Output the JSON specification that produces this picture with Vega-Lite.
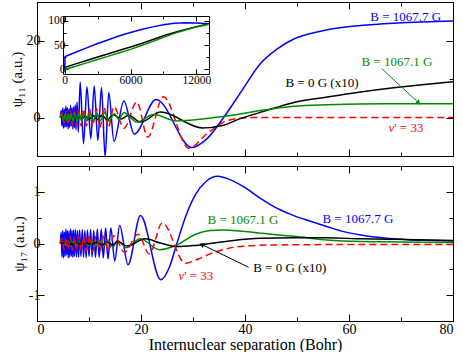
{
"$schema": "https://vega.github.io/schema/vega-lite/v6.json",
"padding": {"left": 9, "top": 1, "right": 0, "bottom": 0},
"config": {
  "view": {"stroke": null},
  "axis": {"grid": false, "domainColor": "#000", "tickColor": "#000", "labelColor": "#000", "titleColor": "#000",
    "labelFont": "Liberation Serif, Times New Roman, serif", "titleFont": "Liberation Serif, Times New Roman, serif", "labelFontSize": 14, "titleFontSize": 15,
    "titleFontWeight": "normal", "domainWidth": 1, "tickWidth": 1},
  "text": {"font": "Liberation Serif, Times New Roman, serif", "fontSize": 13}
},
"datasets": {
"top": [
{"s":"B","x":4.5,"y":0},{"s":"B","x":4.65,"y":1.8},{"s":"B","x":4.8,"y":-2.2},{"s":"B","x":4.95,"y":2.5},{"s":"B","x":5.1,"y":-2.8},{"s":"B","x":5.25,"y":2.2},{"s":"B","x":5.4,"y":-2.5},{"s":"B","x":5.55,"y":3.0},{"s":"B","x":5.7,"y":-2.4},{"s":"B","x":5.85,"y":2.6},{"s":"B","x":6.0,"y":-3.0},{"s":"B","x":6.15,"y":2.2},{"s":"B","x":6.3,"y":-2.6},{"s":"B","x":6.45,"y":3.2},{"s":"B","x":6.6,"y":-2.2},{"s":"B","x":6.75,"y":2.5},{"s":"B","x":6.9,"y":-3.0},{"s":"B","x":7.05,"y":2.8},{"s":"B","x":7.2,"y":-2.6},{"s":"B","x":7.35,"y":3.3},{"s":"B","x":7.5,"y":-3.2},{"s":"B","x":7.7,"y":4.0},{"s":"B","x":7.95,"y":-3.8},{"s":"B","x":8.3,"y":9.2},{"s":"B","x":8.95,"y":-6.8},{"s":"B","x":9.6,"y":8.0},{"s":"B","x":10.35,"y":-5.5},{"s":"B","x":11.0,"y":8.2},{"s":"B","x":11.7,"y":-6.0},{"s":"B","x":12.4,"y":7.8},{"s":"B","x":13.1,"y":-10.2},{"s":"B","x":13.8,"y":6.5},{"s":"B","x":14.8,"y":-6.2},{"s":"B","x":16.7,"y":4.3},{"s":"B","x":18.7,"y":-4.3},{"s":"B","x":22.9,"y":4.7},{"s":"B","x":29.8,"y":-7.8},{"s":"B","x":32.7,"y":-5.5},{"s":"B","x":35.9,"y":0},{"s":"B","x":39.4,"y":7.0},{"s":"B","x":42.9,"y":13.9},{"s":"B","x":46.2,"y":17.8},{"s":"B","x":49.4,"y":20.4},{"s":"B","x":52.6,"y":21.8},{"s":"B","x":55.8,"y":22.8},{"s":"B","x":62.2,"y":23.9},{"s":"B","x":68.6,"y":24.5},{"s":"B","x":74,"y":24.8},{"s":"B","x":80,"y":25.1},
{"s":"K","x":4.5,"y":0},{"s":"K","x":5,"y":0.3},{"s":"K","x":5.5,"y":-0.3},{"s":"K","x":6,"y":0.4},{"s":"K","x":6.5,"y":-0.3},{"s":"K","x":7,"y":0.4},{"s":"K","x":7.5,"y":-0.4},{"s":"K","x":8,"y":0.4},{"s":"K","x":8.6,"y":-0.4},{"s":"K","x":9.3,"y":0.4},{"s":"K","x":10,"y":-0.5},{"s":"K","x":10.8,"y":0.5},{"s":"K","x":11.6,"y":-0.5},{"s":"K","x":12.5,"y":0.6},{"s":"K","x":13.5,"y":-0.6},{"s":"K","x":14.7,"y":0.7},{"s":"K","x":16.2,"y":-0.4},{"s":"K","x":17.6,"y":0.6},{"s":"K","x":19.9,"y":-1.2},{"s":"K","x":23.8,"y":1.4},{"s":"K","x":31.8,"y":-2.7},{"s":"K","x":35.9,"y":-2.0},{"s":"K","x":39.1,"y":-0.3},{"s":"K","x":42.6,"y":1.2},{"s":"K","x":46,"y":2.6},{"s":"K","x":49.4,"y":3.9},{"s":"K","x":55.8,"y":5.3},{"s":"K","x":62.2,"y":6.6},{"s":"K","x":68.6,"y":7.7},{"s":"K","x":74,"y":8.5},{"s":"K","x":80,"y":9.3},
{"s":"G","x":4.5,"y":0},{"s":"G","x":4.8,"y":0.8},{"s":"G","x":5.1,"y":-0.8},{"s":"G","x":5.4,"y":0.9},{"s":"G","x":5.7,"y":-0.9},{"s":"G","x":6.0,"y":1.0},{"s":"G","x":6.3,"y":-0.8},{"s":"G","x":6.6,"y":1.0},{"s":"G","x":6.9,"y":-1.0},{"s":"G","x":7.3,"y":1.0},{"s":"G","x":7.7,"y":-1.1},{"s":"G","x":8.1,"y":1.0},{"s":"G","x":8.6,"y":-1.0},{"s":"G","x":9.1,"y":1.1},{"s":"G","x":9.6,"y":-0.9},{"s":"G","x":10.2,"y":1.1},{"s":"G","x":10.8,"y":-0.9},{"s":"G","x":11.5,"y":1.2},{"s":"G","x":12.2,"y":-0.8},{"s":"G","x":13.0,"y":1.3},{"s":"G","x":13.8,"y":-0.9},{"s":"G","x":14.9,"y":1.0},{"s":"G","x":15.7,"y":-0.5},{"s":"G","x":16.7,"y":1.3},{"s":"G","x":19.2,"y":-1.2},{"s":"G","x":22.4,"y":0.8},{"s":"G","x":26.9,"y":-0.9},{"s":"G","x":30.5,"y":-0.6},{"s":"G","x":33.5,"y":-0.1},{"s":"G","x":36.5,"y":0.4},{"s":"G","x":39.1,"y":0.9},{"s":"G","x":42.9,"y":1.8},{"s":"G","x":45.5,"y":2.3},{"s":"G","x":49.4,"y":2.9},{"s":"G","x":55.8,"y":3.3},{"s":"G","x":62,"y":3.5},{"s":"G","x":70,"y":3.55},{"s":"G","x":80,"y":3.55},
{"s":"R","x":4.4,"y":0},{"s":"R","x":4.8,"y":1.2},{"s":"R","x":5.2,"y":-1.5},{"s":"R","x":5.6,"y":1.6},{"s":"R","x":6.0,"y":-1.8},{"s":"R","x":6.4,"y":1.8},{"s":"R","x":6.8,"y":-2.0},{"s":"R","x":7.2,"y":2.0},{"s":"R","x":7.6,"y":-2.0},{"s":"R","x":8.0,"y":2.2},{"s":"R","x":8.5,"y":-2.2},{"s":"R","x":9.0,"y":2.2},{"s":"R","x":9.5,"y":-2.2},{"s":"R","x":10.1,"y":2.3},{"s":"R","x":10.7,"y":-2.3},{"s":"R","x":11.4,"y":2.4},{"s":"R","x":12.1,"y":-2.5},{"s":"R","x":12.9,"y":2.6},{"s":"R","x":13.7,"y":-2.7},{"s":"R","x":14.8,"y":2.8},{"s":"R","x":16.7,"y":-2.8},{"s":"R","x":19.2,"y":4.0},{"s":"R","x":21.3,"y":-5.1},{"s":"R","x":24.3,"y":5.4},{"s":"R","x":29.2,"y":-8.0},{"s":"R","x":32.7,"y":-4.2},{"s":"R","x":35.9,"y":-1.2},{"s":"R","x":39,"y":-0.2},{"s":"R","x":42,"y":0},{"s":"R","x":80,"y":0}
],
"bot": [
{"s":"B","x":4.5,"y":0},{"s":"B","x":4.65,"y":0.22},{"s":"B","x":4.8,"y":-0.26},{"s":"B","x":4.95,"y":0.25},{"s":"B","x":5.1,"y":-0.28},{"s":"B","x":5.25,"y":0.22},{"s":"B","x":5.4,"y":-0.25},{"s":"B","x":5.55,"y":0.28},{"s":"B","x":5.7,"y":-0.22},{"s":"B","x":5.85,"y":0.25},{"s":"B","x":6.0,"y":-0.28},{"s":"B","x":6.15,"y":0.24},{"s":"B","x":6.3,"y":-0.26},{"s":"B","x":6.45,"y":0.28},{"s":"B","x":6.6,"y":-0.24},{"s":"B","x":6.75,"y":0.25},{"s":"B","x":6.9,"y":-0.27},{"s":"B","x":7.05,"y":0.26},{"s":"B","x":7.2,"y":-0.25},{"s":"B","x":7.4,"y":0.27},{"s":"B","x":7.6,"y":-0.26},{"s":"B","x":7.8,"y":0.25},{"s":"B","x":8.0,"y":-0.27},{"s":"B","x":8.2,"y":0.26},{"s":"B","x":8.45,"y":-0.25},{"s":"B","x":8.7,"y":0.27},{"s":"B","x":8.95,"y":-0.26},{"s":"B","x":9.2,"y":0.25},{"s":"B","x":9.45,"y":-0.28},{"s":"B","x":9.7,"y":0.26},{"s":"B","x":10.0,"y":-0.25},{"s":"B","x":10.3,"y":0.27},{"s":"B","x":10.6,"y":-0.26},{"s":"B","x":10.9,"y":0.25},{"s":"B","x":11.25,"y":-0.27},{"s":"B","x":11.6,"y":0.28},{"s":"B","x":11.95,"y":-0.27},{"s":"B","x":12.35,"y":0.28},{"s":"B","x":12.75,"y":-0.28},{"s":"B","x":13.2,"y":0.3},{"s":"B","x":13.65,"y":-0.3},{"s":"B","x":14.2,"y":0.3},{"s":"B","x":14.95,"y":-0.34},{"s":"B","x":15.9,"y":0.35},{"s":"B","x":17.5,"y":-0.41},{"s":"B","x":19.9,"y":0.54},{"s":"B","x":23.8,"y":-0.7},{"s":"B","x":25.5,"y":-0.45},{"s":"B","x":26.9,"y":0},{"s":"B","x":28.5,"y":0.5},{"s":"B","x":30.5,"y":0.95},{"s":"B","x":32.5,"y":1.2},{"s":"B","x":34.8,"y":1.3},{"s":"B","x":36.5,"y":1.26},{"s":"B","x":39.7,"y":1.1},{"s":"B","x":42.9,"y":0.88},{"s":"B","x":46.2,"y":0.68},{"s":"B","x":49.4,"y":0.54},{"s":"B","x":52.6,"y":0.43},{"s":"B","x":56,"y":0.32},{"s":"B","x":59,"y":0.23},{"s":"B","x":62,"y":0.17},{"s":"B","x":65.4,"y":0.12},{"s":"B","x":68.6,"y":0.09},{"s":"B","x":71.8,"y":0.07},{"s":"B","x":76,"y":0.06},{"s":"B","x":80,"y":0.05},
{"s":"G","x":4.5,"y":0},{"s":"G","x":5,"y":0.04},{"s":"G","x":5.5,"y":-0.04},{"s":"G","x":6,"y":0.05},{"s":"G","x":6.5,"y":-0.05},{"s":"G","x":7,"y":0.05},{"s":"G","x":7.5,"y":-0.05},{"s":"G","x":8,"y":0.05},{"s":"G","x":8.6,"y":-0.05},{"s":"G","x":9.2,"y":0.05},{"s":"G","x":9.8,"y":-0.05},{"s":"G","x":10.5,"y":0.06},{"s":"G","x":11.2,"y":-0.06},{"s":"G","x":12,"y":0.06},{"s":"G","x":12.8,"y":-0.06},{"s":"G","x":13.7,"y":0.07},{"s":"G","x":14.6,"y":-0.07},{"s":"G","x":15.5,"y":0.06},{"s":"G","x":17.2,"y":-0.08},{"s":"G","x":19.8,"y":0.09},{"s":"G","x":23.6,"y":-0.12},{"s":"G","x":26.9,"y":-0.03},{"s":"G","x":30.5,"y":0.18},{"s":"G","x":33.3,"y":0.25},{"s":"G","x":36,"y":0.26},{"s":"G","x":39,"y":0.24},{"s":"G","x":42.9,"y":0.2},{"s":"G","x":46,"y":0.17},{"s":"G","x":49.4,"y":0.14},{"s":"G","x":55.8,"y":0.07},{"s":"G","x":62.2,"y":0.04},{"s":"G","x":70,"y":0.03},{"s":"G","x":80,"y":0.02},
{"s":"K","x":4.5,"y":0},{"s":"K","x":5.5,"y":0.02},{"s":"K","x":6.5,"y":-0.02},{"s":"K","x":7.5,"y":0.02},{"s":"K","x":8.5,"y":-0.02},{"s":"K","x":9.5,"y":0.02},{"s":"K","x":10.5,"y":-0.02},{"s":"K","x":11.5,"y":0.03},{"s":"K","x":12.5,"y":-0.03},{"s":"K","x":13.5,"y":0.03},{"s":"K","x":14.5,"y":-0.03},{"s":"K","x":15.5,"y":0.04},{"s":"K","x":17.3,"y":-0.05},{"s":"K","x":20.8,"y":0.09},{"s":"K","x":23.7,"y":0.01},{"s":"K","x":26.9,"y":-0.06},{"s":"K","x":30.1,"y":-0.04},{"s":"K","x":33.3,"y":0.0},{"s":"K","x":37.8,"y":0.06},{"s":"K","x":42.9,"y":0.1},{"s":"K","x":49.4,"y":0.11},{"s":"K","x":55.8,"y":0.11},{"s":"K","x":62.2,"y":0.09},{"s":"K","x":68.6,"y":0.08},{"s":"K","x":80,"y":0.06},
{"s":"R","x":4.4,"y":0},{"s":"R","x":4.8,"y":0.1},{"s":"R","x":5.2,"y":-0.12},{"s":"R","x":5.6,"y":0.12},{"s":"R","x":6.0,"y":-0.13},{"s":"R","x":6.4,"y":0.13},{"s":"R","x":6.8,"y":-0.13},{"s":"R","x":7.2,"y":0.13},{"s":"R","x":7.6,"y":-0.14},{"s":"R","x":8.0,"y":0.14},{"s":"R","x":8.5,"y":-0.14},{"s":"R","x":9.0,"y":0.14},{"s":"R","x":9.5,"y":-0.14},{"s":"R","x":10.1,"y":0.15},{"s":"R","x":10.7,"y":-0.15},{"s":"R","x":11.4,"y":0.15},{"s":"R","x":12.1,"y":-0.15},{"s":"R","x":12.9,"y":0.15},{"s":"R","x":13.7,"y":-0.15},{"s":"R","x":14.8,"y":0.15},{"s":"R","x":16.8,"y":-0.17},{"s":"R","x":19.4,"y":0.18},{"s":"R","x":21.6,"y":-0.2},{"s":"R","x":24.1,"y":0.4},{"s":"R","x":28.5,"y":-0.38},{"s":"R","x":31,"y":-0.3},{"s":"R","x":33.3,"y":-0.2},{"s":"R","x":36.5,"y":-0.1},{"s":"R","x":40,"y":-0.05},{"s":"R","x":45,"y":-0.03},{"s":"R","x":60,"y":-0.02},{"s":"R","x":80,"y":-0.02}
],
"inset": [
{"s":"B","x":0,"y":0},{"s":"B","x":40,"y":26},{"s":"B","x":1000,"y":35},{"s":"B","x":2000,"y":44},{"s":"B","x":3000,"y":53},{"s":"B","x":4000,"y":61},{"s":"B","x":5000,"y":69},{"s":"B","x":6000,"y":76},{"s":"B","x":7000,"y":82},{"s":"B","x":8000,"y":87.5},{"s":"B","x":9000,"y":92},{"s":"B","x":10000,"y":95},{"s":"B","x":11000,"y":96},{"s":"B","x":12000,"y":95.5},{"s":"B","x":13150,"y":94},
{"s":"K","x":0,"y":0},{"s":"K","x":40,"y":4},{"s":"K","x":1000,"y":11},{"s":"K","x":2000,"y":18},{"s":"K","x":3000,"y":25},{"s":"K","x":4000,"y":32},{"s":"K","x":5000,"y":39},{"s":"K","x":6000,"y":46},{"s":"K","x":7000,"y":53},{"s":"K","x":8000,"y":61},{"s":"K","x":9000,"y":69},{"s":"K","x":10000,"y":76},{"s":"K","x":11000,"y":82},{"s":"K","x":12000,"y":88},{"s":"K","x":13150,"y":94},
{"s":"G","x":0,"y":0},{"s":"G","x":40,"y":0},{"s":"G","x":1000,"y":6},{"s":"G","x":2000,"y":13},{"s":"G","x":3000,"y":20},{"s":"G","x":4000,"y":27},{"s":"G","x":5000,"y":34},{"s":"G","x":6000,"y":41},{"s":"G","x":7000,"y":49},{"s":"G","x":8000,"y":57},{"s":"G","x":9000,"y":66},{"s":"G","x":10000,"y":74},{"s":"G","x":11000,"y":81},{"s":"G","x":12000,"y":87},{"s":"G","x":13150,"y":93}
],
"topText": [
{"s":"B","x":70.9,"y":26.0,"t":"B = 1067.7 G","k":"c"},
{"s":"G","x":69.2,"y":14.3,"t":"B = 1067.1 G","k":"c"},
{"s":"K","x":54.8,"y":9.0,"t":"B = 0 G (x10)","k":"c"},
{"s":"R","x":68.7,"y":-2.6,"t":"ν","k":"nu"},
{"s":"R","x":68.7,"y":-2.6,"t":"' = 33","k":"r"}
],
"botText": [
{"s":"G","x":39.6,"y":0.46,"t":"B = 1067.1 G","k":"c"},
{"s":"B","x":61.7,"y":0.47,"t":"B = 1067.7 G","k":"c"},
{"s":"K","x":48.6,"y":-0.48,"t":"B = 0 G (x10)","k":"c"},
{"s":"R","x":28.3,"y":-0.62,"t":"ν","k":"nu"},
{"s":"R","x":28.3,"y":-0.62,"t":"' = 33","k":"r"}
],
"topArrow": [{"x":66.3,"y":12.7,"x2":73.4,"y2":3.8}],
"botArrow": [{"x":40.7,"y":-0.46,"x2":31.7,"y2":-0.02}]
},
"spacing": 8,
"vconcat": [
{
 "width": 416, "height": 154,
 "resolve": {"scale": {"x": "independent", "y": "independent", "color": "independent"}, "axis": {"x": "independent", "y": "independent"}},
 "layer": [
  {"data": {"name": "top"}, "transform": [{"filter": "datum.s === 'B'"}],
   "mark": {"type": "line", "color": "#0000ff", "strokeWidth": 1.5, "interpolate": "monotone", "clip": true},
   "encoding": {
    "x": {"field": "x", "type": "quantitative", "scale": {"domain": [0, 80], "nice": false, "zero": false},
      "axis": {"orient": "bottom", "values": [0,10,20,30,40,50,60,70,80], "labels": false, "title": null,
        "tickSize": {"condition": {"test": "datum.value % 20 !== 0", "value": -4}, "value": -7}}},
    "y": {"field": "y", "type": "quantitative", "scale": {"domain": [-10, 30], "nice": false, "zero": false},
      "axis": {"orient": "left", "values": [-10,0,10,20,30], "labelExpr": "datum.value % 20 === 0 ? datum.label : ''",
        "title": "ψ₁₁ (a.u.)", "titlePadding": 2, "labelPadding": 4,
        "tickSize": {"condition": {"test": "datum.value % 20 !== 0", "value": -4}, "value": -7}}}
   }},
  {"data": {"name": "top"}, "transform": [{"filter": "datum.s === 'R'"}],
   "mark": {"type": "line", "color": "#ff0000", "strokeWidth": 1.5, "strokeDash": [7, 4], "interpolate": "monotone", "clip": true},
   "encoding": {
    "x": {"field": "x", "type": "quantitative", "scale": {"domain": [0, 80], "nice": false, "zero": false},
      "axis": {"orient": "top", "values": [0,10,20,30,40,50,60,70,80], "labels": false, "title": null,
        "tickSize": {"condition": {"test": "datum.value % 20 !== 0", "value": -4}, "value": -7}}},
    "y": {"field": "y", "type": "quantitative", "scale": {"domain": [-10, 30], "nice": false, "zero": false},
      "axis": {"orient": "right", "values": [-10,0,10,20,30], "labels": false, "title": null,
        "tickSize": {"condition": {"test": "datum.value % 20 !== 0", "value": -4}, "value": -7}}}
   }},
  {"data": {"name": "top"}, "transform": [{"filter": "datum.s === 'K'"}],
   "mark": {"type": "line", "color": "#000000", "strokeWidth": 1.5, "interpolate": "monotone", "clip": true},
   "encoding": {
    "x": {"field": "x", "type": "quantitative", "scale": {"domain": [0, 80], "nice": false, "zero": false}, "axis": null},
    "y": {"field": "y", "type": "quantitative", "scale": {"domain": [-10, 30], "nice": false, "zero": false}, "axis": null}
   }},
  {"data": {"name": "top"}, "transform": [{"filter": "datum.s === 'G'"}],
   "mark": {"type": "line", "color": "#008b00", "strokeWidth": 1.5, "interpolate": "monotone", "clip": true},
   "encoding": {
    "x": {"field": "x", "type": "quantitative", "scale": {"domain": [0, 80], "nice": false, "zero": false}, "axis": null},
    "y": {"field": "y", "type": "quantitative", "scale": {"domain": [-10, 30], "nice": false, "zero": false}, "axis": null}
   }},
  {"data": {"name": "topText"}, "transform": [{"filter": "datum.k === 'c'"}],
   "mark": {"type": "text", "align": "center", "baseline": "middle"},
   "encoding": {
    "x": {"field": "x", "type": "quantitative", "scale": {"domain": [0, 80], "nice": false, "zero": false}, "axis": null},
    "y": {"field": "y", "type": "quantitative", "scale": {"domain": [-10, 30], "nice": false, "zero": false}, "axis": null},
    "text": {"field": "t"},
    "color": {"field": "s", "type": "nominal", "scale": {"domain": ["B","K","G","R"], "range": ["#0000ff","#000000","#008b00","#ff0000"]}, "legend": null}
   }},
  {"data": {"name": "topText"}, "transform": [{"filter": "datum.k === 'nu'"}],
   "mark": {"type": "text", "align": "right", "baseline": "middle", "fontStyle": "italic", "color": "#ff0000"},
   "encoding": {
    "x": {"field": "x", "type": "quantitative", "scale": {"domain": [0, 80], "nice": false, "zero": false}, "axis": null},
    "y": {"field": "y", "type": "quantitative", "scale": {"domain": [-10, 30], "nice": false, "zero": false}, "axis": null},
    "text": {"field": "t"}
   }},
  {"data": {"name": "topText"}, "transform": [{"filter": "datum.k === 'r'"}],
   "mark": {"type": "text", "align": "left", "baseline": "middle", "color": "#ff0000"},
   "encoding": {
    "x": {"field": "x", "type": "quantitative", "scale": {"domain": [0, 80], "nice": false, "zero": false}, "axis": null},
    "y": {"field": "y", "type": "quantitative", "scale": {"domain": [-10, 30], "nice": false, "zero": false}, "axis": null},
    "text": {"field": "t"}
   }},
  {"data": {"name": "topArrow"},
   "mark": {"type": "rule", "color": "#008b00", "strokeWidth": 1},
   "encoding": {
    "x": {"field": "x", "type": "quantitative", "scale": {"domain": [0, 80], "nice": false, "zero": false}, "axis": null},
    "y": {"field": "y", "type": "quantitative", "scale": {"domain": [-10, 30], "nice": false, "zero": false}, "axis": null},
    "x2": {"field": "x2"}, "y2": {"field": "y2"}
   }},
  {"data": {"name": "topArrow"},
   "mark": {"type": "point", "shape": "triangle-right", "angle": 43, "size": 30, "filled": true, "opacity": 1, "color": "#008b00"},
   "encoding": {
    "x": {"field": "x2", "type": "quantitative", "scale": {"domain": [0, 80], "nice": false, "zero": false}, "axis": null},
    "y": {"field": "y2", "type": "quantitative", "scale": {"domain": [-10, 30], "nice": false, "zero": false}, "axis": null}
   }},
  {"data": {"name": "inset"}, "transform": [{"filter": "datum.s === 'B'"}],
   "mark": {"type": "line", "color": "#0000ff", "strokeWidth": 1.5},
   "encoding": {
    "x": {"field": "x", "type": "quantitative", "scale": {"domain": [-150, 13150], "range": [26, 172], "nice": false, "zero": false},
      "axis": {"orient": "bottom", "offset": -82, "values": [0,3000,6000,9000,12000], "format": "d",
        "labelExpr": "datum.value % 6000 === 0 ? datum.label : ''", "labelFontSize": 11.5, "labelPadding": 5, "title": null,
        "tickSize": {"condition": {"test": "datum.value % 6000 !== 0", "value": -3}, "value": -5}}},
    "y": {"field": "y", "type": "quantitative", "scale": {"domain": [-10, 110], "range": [72, 14], "nice": false, "zero": false},
      "axis": {"orient": "left", "offset": -26, "values": [0,25,50,75,100],
        "labelExpr": "datum.value % 50 === 0 ? datum.label : ''", "labelFontSize": 11.5, "labelPadding": 3, "title": null,
        "tickSize": {"condition": {"test": "datum.value % 50 !== 0", "value": -3}, "value": -5}}}
   }},
  {"data": {"name": "inset"}, "transform": [{"filter": "datum.s === 'K'"}],
   "mark": {"type": "line", "color": "#000000", "strokeWidth": 1.5},
   "encoding": {
    "x": {"field": "x", "type": "quantitative", "scale": {"domain": [-150, 13150], "range": [26, 172], "nice": false, "zero": false},
      "axis": {"orient": "top", "offset": -14, "values": [0,3000,6000,9000,12000], "labels": false, "title": null,
        "tickSize": {"condition": {"test": "datum.value % 6000 !== 0", "value": -3}, "value": -5}}},
    "y": {"field": "y", "type": "quantitative", "scale": {"domain": [-10, 110], "range": [72, 14], "nice": false, "zero": false},
      "axis": {"orient": "right", "offset": -244, "values": [0,25,50,75,100], "labels": false, "title": null,
        "tickSize": {"condition": {"test": "datum.value % 50 !== 0", "value": -3}, "value": -5}}}
   }},
  {"data": {"name": "inset"}, "transform": [{"filter": "datum.s === 'G'"}],
   "mark": {"type": "line", "color": "#008b00", "strokeWidth": 1.5},
   "encoding": {
    "x": {"field": "x", "type": "quantitative", "scale": {"domain": [-150, 13150], "range": [26, 172], "nice": false, "zero": false}, "axis": null},
    "y": {"field": "y", "type": "quantitative", "scale": {"domain": [-10, 110], "range": [72, 14], "nice": false, "zero": false}, "axis": null}
   }}
 ]
},
{
 "width": 416, "height": 155,
 "resolve": {"scale": {"x": "independent", "y": "independent", "color": "independent"}, "axis": {"x": "independent", "y": "independent"}},
 "layer": [
  {"data": {"name": "bot"}, "transform": [{"filter": "datum.s === 'B'"}],
   "mark": {"type": "line", "color": "#0000ff", "strokeWidth": 1.5, "interpolate": "monotone", "clip": true},
   "encoding": {
    "x": {"field": "x", "type": "quantitative", "scale": {"domain": [0, 80], "nice": false, "zero": false},
      "axis": {"orient": "bottom", "values": [0,10,20,30,40,50,60,70,80], "labelExpr": "datum.value % 20 === 0 ? datum.label : ''",
        "title": "Internuclear separation (Bohr)", "titleFontSize": 16, "titlePadding": 0, "labelPadding": 8,
        "tickSize": {"condition": {"test": "datum.value % 20 !== 0", "value": -4}, "value": -7}}},
    "y": {"field": "y", "type": "quantitative", "scale": {"domain": [-1.5, 1.5], "nice": false, "zero": false},
      "axis": {"orient": "left", "values": [-1.5,-1,-0.5,0,0.5,1,1.5],
        "labelExpr": "datum.value % 1 === 0 ? (datum.value < 0 ? '-' + abs(datum.value) : '' + datum.value) : ''",
        "title": "ψ₁₇ (a.u.)", "titlePadding": 2, "labelPadding": 4,
        "tickSize": {"condition": {"test": "datum.value % 1 !== 0", "value": -4}, "value": -7}}}
   }},
  {"data": {"name": "bot"}, "transform": [{"filter": "datum.s === 'G'"}],
   "mark": {"type": "line", "color": "#008b00", "strokeWidth": 1.5, "interpolate": "monotone", "clip": true},
   "encoding": {
    "x": {"field": "x", "type": "quantitative", "scale": {"domain": [0, 80], "nice": false, "zero": false},
      "axis": {"orient": "top", "values": [0,10,20,30,40,50,60,70,80], "labels": false, "title": null,
        "tickSize": {"condition": {"test": "datum.value % 20 !== 0", "value": -4}, "value": -7}}},
    "y": {"field": "y", "type": "quantitative", "scale": {"domain": [-1.5, 1.5], "nice": false, "zero": false},
      "axis": {"orient": "right", "values": [-1.5,-1,-0.5,0,0.5,1,1.5], "labels": false, "title": null,
        "tickSize": {"condition": {"test": "datum.value % 1 !== 0", "value": -4}, "value": -7}}}
   }},
  {"data": {"name": "bot"}, "transform": [{"filter": "datum.s === 'K'"}],
   "mark": {"type": "line", "color": "#000000", "strokeWidth": 1.5, "interpolate": "monotone", "clip": true},
   "encoding": {
    "x": {"field": "x", "type": "quantitative", "scale": {"domain": [0, 80], "nice": false, "zero": false}, "axis": null},
    "y": {"field": "y", "type": "quantitative", "scale": {"domain": [-1.5, 1.5], "nice": false, "zero": false}, "axis": null}
   }},
  {"data": {"name": "bot"}, "transform": [{"filter": "datum.s === 'R'"}],
   "mark": {"type": "line", "color": "#ff0000", "strokeWidth": 1.5, "strokeDash": [7, 4], "interpolate": "monotone", "clip": true},
   "encoding": {
    "x": {"field": "x", "type": "quantitative", "scale": {"domain": [0, 80], "nice": false, "zero": false}, "axis": null},
    "y": {"field": "y", "type": "quantitative", "scale": {"domain": [-1.5, 1.5], "nice": false, "zero": false}, "axis": null}
   }},
  {"data": {"name": "botText"}, "transform": [{"filter": "datum.k === 'c'"}],
   "mark": {"type": "text", "align": "center", "baseline": "middle"},
   "encoding": {
    "x": {"field": "x", "type": "quantitative", "scale": {"domain": [0, 80], "nice": false, "zero": false}, "axis": null},
    "y": {"field": "y", "type": "quantitative", "scale": {"domain": [-1.5, 1.5], "nice": false, "zero": false}, "axis": null},
    "text": {"field": "t"},
    "color": {"field": "s", "type": "nominal", "scale": {"domain": ["B","K","G","R"], "range": ["#0000ff","#000000","#008b00","#ff0000"]}, "legend": null}
   }},
  {"data": {"name": "botText"}, "transform": [{"filter": "datum.k === 'nu'"}],
   "mark": {"type": "text", "align": "right", "baseline": "middle", "fontStyle": "italic", "color": "#ff0000"},
   "encoding": {
    "x": {"field": "x", "type": "quantitative", "scale": {"domain": [0, 80], "nice": false, "zero": false}, "axis": null},
    "y": {"field": "y", "type": "quantitative", "scale": {"domain": [-1.5, 1.5], "nice": false, "zero": false}, "axis": null},
    "text": {"field": "t"}
   }},
  {"data": {"name": "botText"}, "transform": [{"filter": "datum.k === 'r'"}],
   "mark": {"type": "text", "align": "left", "baseline": "middle", "color": "#ff0000"},
   "encoding": {
    "x": {"field": "x", "type": "quantitative", "scale": {"domain": [0, 80], "nice": false, "zero": false}, "axis": null},
    "y": {"field": "y", "type": "quantitative", "scale": {"domain": [-1.5, 1.5], "nice": false, "zero": false}, "axis": null},
    "text": {"field": "t"}
   }},
  {"data": {"name": "botArrow"},
   "mark": {"type": "rule", "color": "#000000", "strokeWidth": 1},
   "encoding": {
    "x": {"field": "x", "type": "quantitative", "scale": {"domain": [0, 80], "nice": false, "zero": false}, "axis": null},
    "y": {"field": "y", "type": "quantitative", "scale": {"domain": [-1.5, 1.5], "nice": false, "zero": false}, "axis": null},
    "x2": {"field": "x2"}, "y2": {"field": "y2"}
   }},
  {"data": {"name": "botArrow"},
   "mark": {"type": "point", "shape": "triangle-right", "angle": 207, "size": 30, "filled": true, "opacity": 1, "color": "#000000"},
   "encoding": {
    "x": {"field": "x2", "type": "quantitative", "scale": {"domain": [0, 80], "nice": false, "zero": false}, "axis": null},
    "y": {"field": "y2", "type": "quantitative", "scale": {"domain": [-1.5, 1.5], "nice": false, "zero": false}, "axis": null}
   }}
 ]
}
]
}
